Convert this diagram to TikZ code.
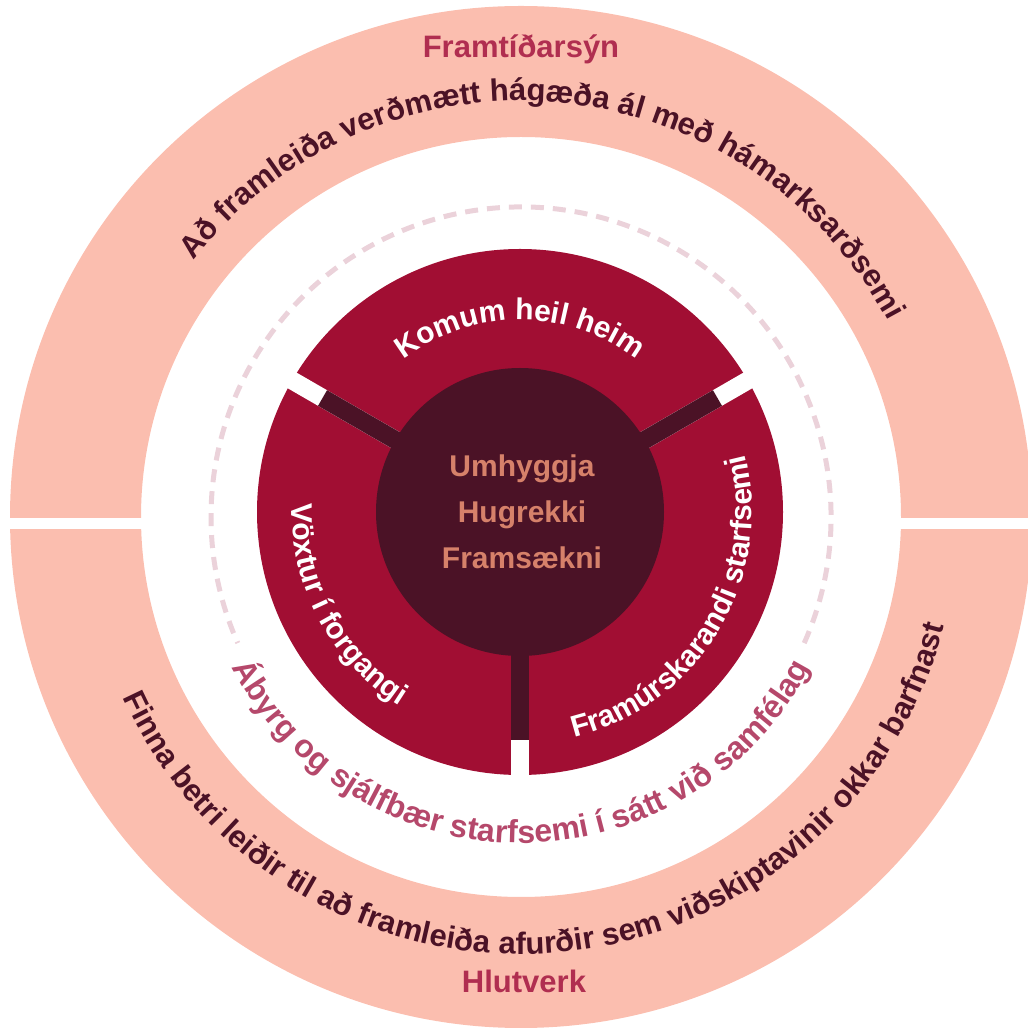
\documentclass[tikz,border=0pt]{standalone}
\usepackage{fontspec}
\setmainfont{Liberation Sans}
\usetikzlibrary{decorations.text,calc}
\definecolor{ringfill}{HTML}{FBBEAF}
\definecolor{crimson}{HTML}{A10E33}
\definecolor{darkc}{HTML}{4B1226}
\definecolor{centertxt}{HTML}{D6816A}
\definecolor{rosetitle}{HTML}{B02E50}
\definecolor{ringtxt}{HTML}{4B1226}
\definecolor{abyrgc}{HTML}{B5486B}
\definecolor{dashc}{HTML}{EBD2DA}
\newcommand\rfont{\fontsize{31}{37}\selectfont\bfseries}
\newcommand\afont{\fontsize{32}{38}\selectfont\bfseries}
\newcommand\sfont{\fontsize{30}{36}\selectfont\bfseries}
\begin{document}
\begin{tikzpicture}[x=1pt,y=1pt,
  arctext/.style={decorate, decoration={text along path, text align=center, text={#1}}},
  gapstrip/.style={fill=white},
  spoke/.style={fill=darkc},
  titletxt/.style={font=\rfont, text=rosetitle, anchor=base},
  valuetxt/.style={font=\sfont, text=centertxt, anchor=base}]
\useasboundingbox (0,0) rectangle (1028,1029);
\clip (0,0) rectangle (1028,1029);
\coordinate (C) at (521,512);
\coordinate (S) at (520,517);
% outer ring
\fill[ringfill, even odd rule] (C) circle[radius=511pt] (C) circle[radius=380pt];
\fill[white] (0,500) rectangle (1028,511);
% dashed circle
\draw[dashc, line width=5pt, dash pattern=on 13pt off 9pt]
  ($(C)+(-24:310pt)$) arc[start angle=-24, end angle=204, radius=310pt];
% sectors
\fill[crimson] (S) circle[radius=263pt];
\foreach \a in {30,150,270} {
  \begin{scope}[shift={(S)}, rotate=\a]
    \fill[gapstrip] (0,-9) rectangle (275,9);
    \fill[spoke] (0,-9) rectangle (228,9);
  \end{scope}
}
\fill[darkc] (S) circle[radius=144pt];
% titles
\node[titletxt] (vision) at (521,971) {Framtíðarsýn};
\node[titletxt] (mission) at (524,36) {Hlutverk};
% center values
\node[valuetxt] (v1) at (522,552) {Umhyggja};
\node[valuetxt] (v2) at (522,506) {Hugrekki};
\node[valuetxt] (v3) at (522,460) {Framsækni};
% ring texts
\path[arctext={|\color{ringtxt}\rfont|Að framleiða verðmætt hágæða ál með hámarksarðsemi}]
  ($(C)+(160:416pt)$) arc[start angle=160, end angle=10, radius=416pt];
\path[arctext={|\color{ringtxt}\rfont|Finna betri leiðir til að framleiða afurðir sem viðskiptavinir okkar barfnast}]
  ($(C)+(190:437pt)$) arc[start angle=190, end angle=360, radius=437pt];
\path[arctext={|\color{abyrgc}\afont|Ábyrg og sjálfbær starfsemi í sátt við samfélag}]
  ($(C)+(195:326pt)$) arc[start angle=195, end angle=345, radius=326pt];
% sector texts
\path[arctext={|\color{white}\sfont|Komum heil heim}]
  ($(S)+(145:192pt)$) arc[start angle=145, end angle=35, radius=192pt];
\path[arctext={|\color{white}\sfont|Vöxtur í forgangi}]
  ($(S)+(138:228pt)$) arc[start angle=138, end angle=278, radius=228pt];
\path[arctext={|\color{white}\sfont|Framúrskarandi starfsemi}]
  ($(S)+(259:232pt)$) arc[start angle=259, end angle=399, radius=232pt];
\end{tikzpicture}
\end{document}
